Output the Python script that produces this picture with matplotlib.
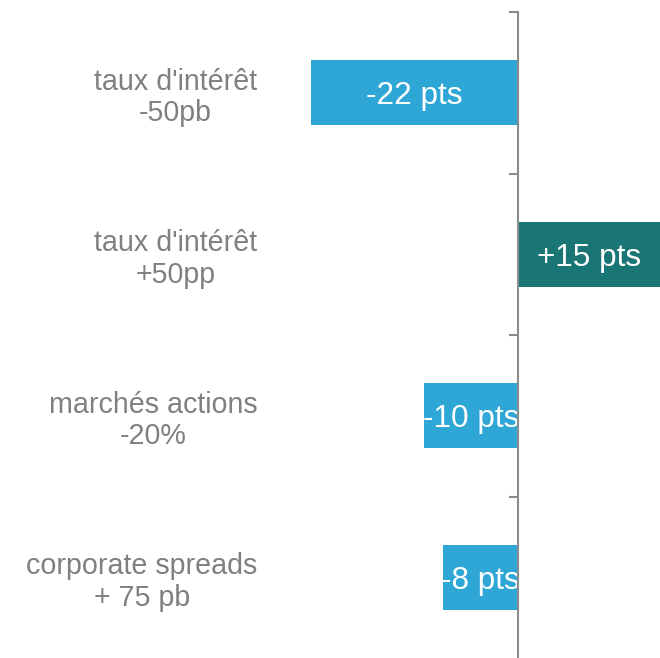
import numpy as np
import matplotlib
matplotlib.use("Agg")
import matplotlib.pyplot as plt

plt.rcParams['font.family'] = ['Liberation Sans', 'DejaVu Sans']

categories = [
    "taux d'intérêt\n-50pb",
    "taux d'intérêt\n+50pp",
    "marchés actions\n-20%",
    "corporate spreads\n+ 75 pb",
]
values = [-22, 15, -10, -8]
value_labels = ["-22 pts", "+15 pts", "-10 pts", "-8 pts"]

BLUE = '#2ea7d6'
TEAL = '#1a7575'
GREY = '#808080'
AXIS_GREY = '#8c8c8c'

W, H = 660, 658
fig = plt.figure(figsize=(W / 100, H / 100), dpi=100)
ax = fig.add_axes([0, 0, 1, 1 - 12 / H])

pos = np.arange(len(categories))
colors = [TEAL if v > 0 else BLUE for v in values]
bars = ax.barh(pos, values, height=0.4, color=colors, zorder=2)

for b, lab in zip(bars, value_labels):
    ax.text(b.get_x() + b.get_width() / 2, b.get_y() + b.get_height() / 2, lab,
            ha='center', va='center_baseline', color='white', fontsize=22.7, zorder=3)

ax.set_xlim(-54.9, 15)
ax.set_ylim(len(categories) - 0.5, -0.5)

# only the zero line is shown
for s in ['top', 'right', 'bottom']:
    ax.spines[s].set_visible(False)
ax.spines['left'].set_position(('data', 0))
ax.spines['left'].set_color(AXIS_GREY)
ax.spines['left'].set_linewidth(1.5)
ax.spines['left'].set_zorder(4)

ax.set_xticks([])
ax.set_yticks(pos)
ax.set_yticklabels(categories, fontsize=20.6, color=GREY, ha='right',
                   multialignment='center', linespacing=1.15)
ax.tick_params(axis='y', which='major', length=0, pad=188)
ax.set_yticks(np.arange(len(categories)) - 0.5, minor=True)
ax.tick_params(axis='y', which='minor', length=6.5, width=1.5, color=AXIS_GREY, direction='out')

fig.savefig('out.png', dpi=100)
